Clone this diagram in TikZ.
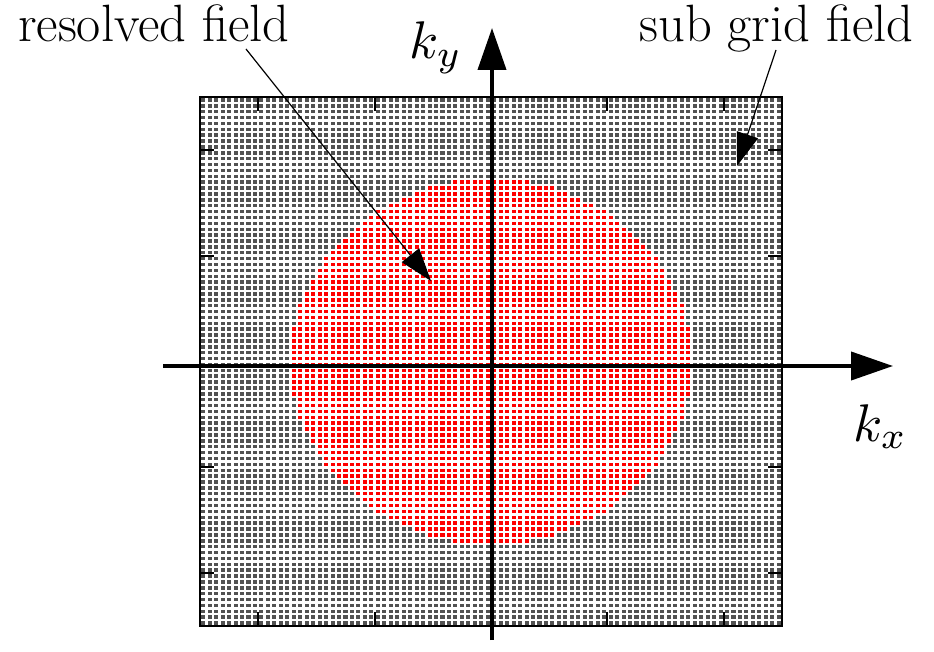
\documentclass[tikz,border=0pt]{standalone}
\usepackage{graphicx}
\usetikzlibrary{arrows.meta}
\begin{document}
\begin{tikzpicture}[x=1pt,y=-1pt,
  lbl/.style={font=\fontsize{52.5}{60}\selectfont, inner sep=0pt},
  mlbl/.style={inner sep=0pt},
  axisarrow/.style={line width=4pt, -{Triangle[length=42pt,width=28pt]}},
  note/.style={line width=1.2pt, -{Triangle[length=33pt,width=22pt]}},
  tickmark/.style={line width=2pt},
  gridline/.style={white, line width=2.4pt}]
\useasboundingbox (0,0) rectangle (934,652);
\pgfmathsetmacro\cw{582/90}
\pgfmathsetmacro\ch{529/90}
% sub grid field background
\fill[black!68] (200,97) rectangle (782,626);
% resolved field (pixelated disc)
\foreach \i in {14,...,75}{
  \pgfmathsetmacro\xc{\i-44.5}
  \pgfmathsetmacro\n{floor(sqrt(31*31-\xc*\xc)+0.5)}
  \fill[red] ({200+\i*\cw},{361.5-\n*\ch}) rectangle ({200+(\i+1)*\cw},{361.5+\n*\ch});
}
% fine grid
\foreach \i in {1,...,89}{
  \draw[gridline] ({200+\i*\cw},97) -- ({200+\i*\cw},626);
  \draw[gridline] (200,{97+\i*\ch}) -- (782,{97+\i*\ch});
}
% frame and ticks
\draw[line width=2pt] (200,97) rectangle (782,626);
\foreach \k in {-4,-2,2,4}{
  \draw[tickmark] ({491+\k*58.2},97) -- ({491+\k*58.2},111);
  \draw[tickmark] ({491+\k*58.2},626) -- ({491+\k*58.2},612);
  \draw[tickmark] (200,{361.5+\k*52.9}) -- (214,{361.5+\k*52.9});
  \draw[tickmark] (782,{361.5+\k*52.9}) -- (768,{361.5+\k*52.9});
}
% axes
\coordinate (xa) at (163,366);
\coordinate (xb) at (893,366);
\coordinate (ya) at (492,640);
\coordinate (yb) at (492,28);
\draw[axisarrow] (xa) -- (xb);
\draw[axisarrow] (ya) -- (yb);
\node[mlbl, anchor=base west] (kx) at (853,441) {\scalebox{5.3}{$k_x$}};
\node[mlbl, anchor=base west] (ky) at (409,59) {\scalebox{5.3}{$k_y$}};
% labels
\node[lbl, anchor=base west] (resolved) at (18,42) {resolved field};
\node[lbl, anchor=base east] (subgrid) at (914,42) {sub grid field};
\coordinate (rs) at (246,49);
\coordinate (rt) at (431,281);
\coordinate (ss) at (776,50);
\coordinate (st) at (737,166);
\draw[note] (rs) -- (rt);
\draw[note] (ss) -- (st);
\end{tikzpicture}
\end{document}
